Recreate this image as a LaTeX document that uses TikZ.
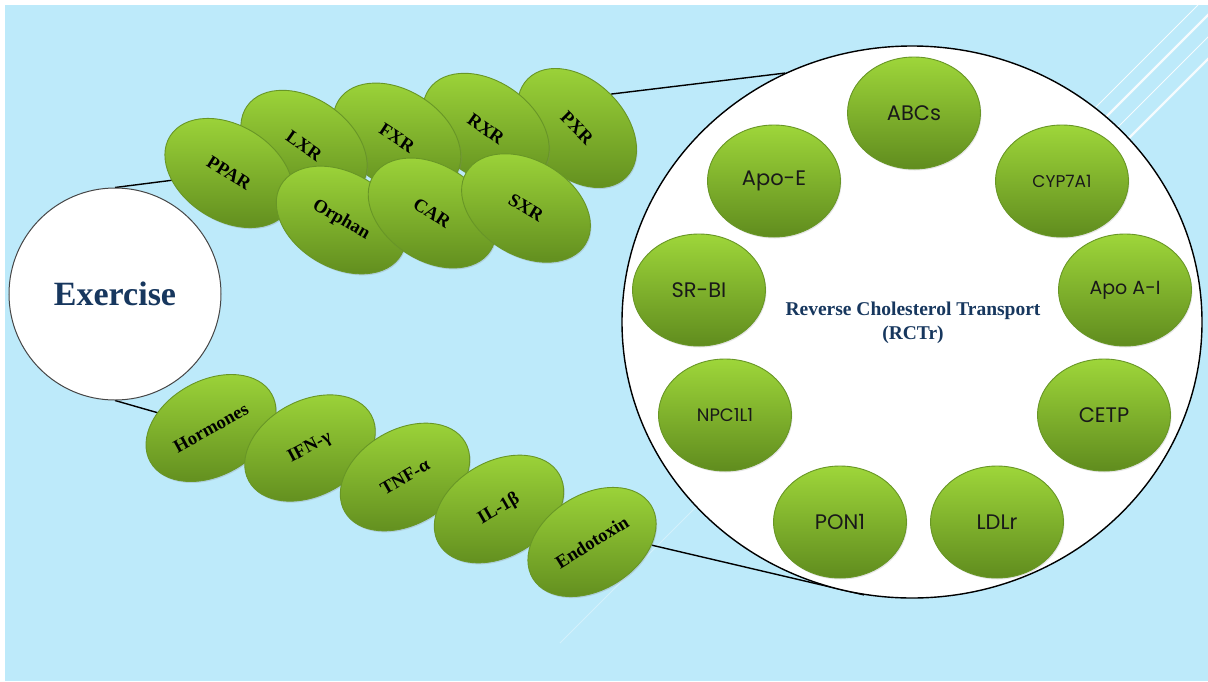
\documentclass[tikz,border=0pt]{standalone}
\usepackage{fontspec}
\setmainfont{Liberation Serif}
\newfontfamily\gothic{Poppins}
\usetikzlibrary{shapes.geometric,shadows}
\definecolor{bgblue}{RGB}{189,234,250}
\definecolor{gtop}{RGB}{158,214,58}
\definecolor{gbot}{RGB}{96,140,30}
\definecolor{gedge}{RGB}{104,150,38}
\definecolor{navy}{RGB}{23,55,94}
\definecolor{rimgray}{RGB}{70,70,70}
\pgfdeclarelayer{back}
\pgfdeclarelayer{conn}
\pgfsetlayers{back,conn,main}
\tikzset{
  pill/.style={ellipse, minimum width=139pt, minimum height=95pt, inner sep=0pt,
    top color=gtop, bottom color=gbot, draw=gedge, line width=0.9pt,
    drop shadow={shadow xshift=1pt, shadow yshift=-1.5pt, opacity=0.25},
    font=\fontsize{18.5}{20}\selectfont\bfseries, text=black},
  inpill/.style={ellipse, minimum width=133pt, minimum height=112pt, inner sep=0pt,
    top color=gtop, bottom color=gbot, draw=gedge, line width=0.9pt,
    drop shadow={shadow xshift=1pt, shadow yshift=-1.5pt, opacity=0.2},
    font=\gothic\fontsize{21}{24}\selectfont, text=black!90},
  link/.style={black, line width=1.4pt},
  stripe/.style={white, line width=#1}
}
\begin{document}
\begin{tikzpicture}[x=1pt,y=-1pt]
\useasboundingbox (0,0) rectangle (1208,681);
\begin{pgfonlayer}{back}
  \fill[white] (0,0) rectangle (1208,681);
  \fill[bgblue] (5,5) rectangle (1208,681);
  \foreach \b/\w in {1198/0.8pt, 1218/2.2pt, 1240/0.8pt, 1262/2.2pt}{
    \draw[stripe=\w, opacity=0.85] (\b,5) -- (\b-150,155);
  }
  \draw[stripe=0.8pt, opacity=0.35] (1048,155) -- (560,643);
\end{pgfonlayer}

% big circles
\node[circle, draw=rimgray, fill=white, minimum size=212pt, inner sep=0pt, line width=1pt,
      font=\fontsize{34}{36}\selectfont\bfseries, text=navy] (ex) at (115,294) {Exercise};
\node[ellipse, draw=black, fill=white, minimum width=580pt, minimum height=552pt,
      inner sep=0pt, line width=1.4pt] (rct) at (912,322) {};
\node[font=\fontsize{19.5}{24}\selectfont\bfseries, text=navy, align=center] (rtxt) at (913,323)
      {Reverse Cholesterol Transport\\(RCTr)};

% top cluster (back to front)
\node[pill, rotate=-45] (pxr) at (577,128) {PXR};
\node[pill, rotate=-35] (rxr) at (486,129) {RXR};
\node[pill, rotate=-33] (fxr) at (397,138) {FXR};
\node[pill, rotate=-35] (lxr) at (304,146) {LXR};
\node[pill, rotate=-32] (ppar) at (229,173) {PPAR};
\node[pill, rotate=-30] (orph) at (341,220) {Orphan};
\node[pill, rotate=-33] (car) at (432,213) {CAR};
\node[pill, rotate=-31] (sxr) at (526,208) {SXR};

% bottom chain
\node[pill, rotate=29] (horm) at (211,428) {Hormones};
\node[pill, rotate=28] (ifn) at (310,448) {IFN-γ};
\node[pill, rotate=30] (tnf) at (405,477) {TNF-α};
\node[pill, rotate=30] (il) at (499,509) {IL-1β};
\node[pill, rotate=32] (endo) at (592,542) {Endotoxin};

% inner ring
\node[inpill] (abc) at (914,113) {ABCs};
\node[inpill] (apoe) at (774,181) {Apo-E};
\node[inpill, font=\gothic\fontsize{17}{20}\selectfont] (cyp) at (1062,181) {CYP7A1};
\node[inpill] (srbi) at (699,290) {SR-BI};
\node[inpill, font=\gothic\fontsize{19}{22}\selectfont] (apoa) at (1125,290) {Apo A-I};
\node[inpill, font=\gothic\fontsize{18}{21}\selectfont] (npc) at (725,415) {NPC1L1};
\node[inpill] (cetp) at (1104,415) {CETP};
\node[inpill] (pon) at (840,522) {PON1};
\node[inpill] (ldl) at (997,522) {LDLr};

% connectors
\begin{pgfonlayer}{conn}
  \draw[link] (ex.north) -- (ppar.center);
  \draw[link] (ex.south) -- (horm.center);
  \draw[link] (pxr.north) -- (rct.117);
  \draw[link] (endo.-35) -- (rct.260);
\end{pgfonlayer}
\end{tikzpicture}
\end{document}
